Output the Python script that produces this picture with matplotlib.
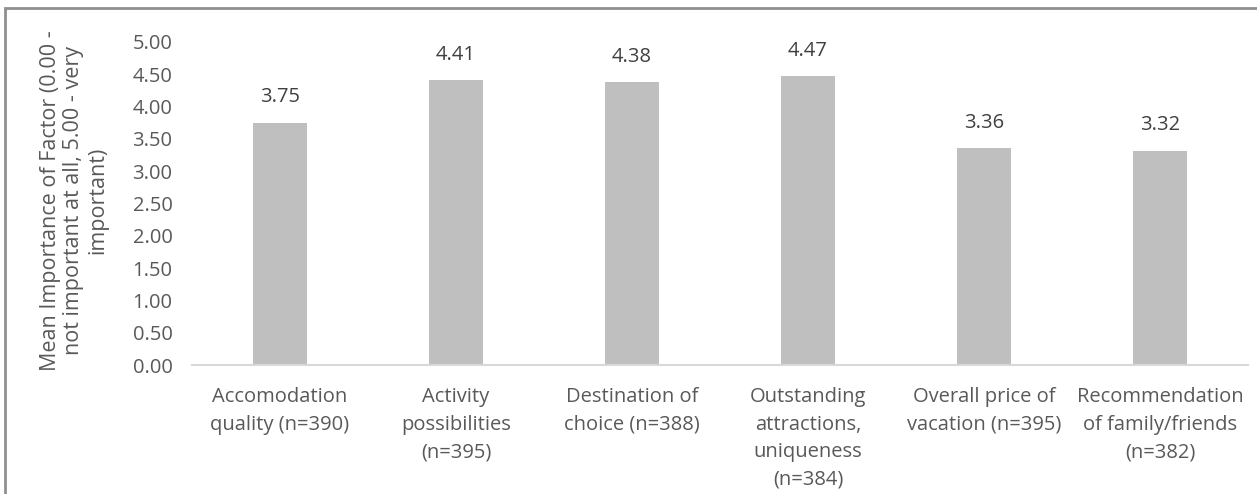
import matplotlib
matplotlib.use("Agg")
import matplotlib.pyplot as plt
import matplotlib.patches as mpatches
import numpy as np

plt.rcParams["font.family"] = ["Open Sans", "DejaVu Sans"]

categories = [
    "Accomodation\nquality (n=390)",
    "Activity\npossibilities\n(n=395)",
    "Destination of\nchoice (n=388)",
    "Outstanding\nattractions,\nuniqueness\n(n=384)",
    "Overall price of\nvacation (n=395)",
    "Recommendation\nof family/friends\n(n=382)",
]
means = [3.75, 4.41, 4.38, 4.47, 3.36, 3.32]
y_ticks = [0.0, 0.5, 1.0, 1.5, 2.0, 2.5, 3.0, 3.5, 4.0, 4.5, 5.0]

text_col = "#595959"

fig = plt.figure(figsize=(12.57, 4.94), dpi=100)
ax = fig.add_axes([0.1527, 0.261, 0.8401, 0.654])

x = np.arange(len(categories))
bars = ax.bar(x, means, width=0.31, color="#bfbfbf", zorder=2)

for b, v in zip(bars, means):
    ax.annotate(f"{v:.2f}", (b.get_x() + b.get_width() / 2, v),
                xytext=(0, 11), textcoords="offset points",
                ha="center", va="bottom", fontsize=14.5, color="#404040")

ax.set_xlim(-0.5, len(categories) - 0.5)
ax.set_ylim(0, 5)
ax.set_yticks(y_ticks)
ax.set_yticklabels([f"{t:.2f}" for t in y_ticks])
ax.set_xticks(x)
ax.set_xticklabels(categories, linespacing=1.5)
ax.tick_params(axis="both", length=0, labelsize=14.5, colors=text_col)
ax.tick_params(axis="x", pad=16)
ax.tick_params(axis="y", pad=14)

for side in ["top", "right", "left"]:
    ax.spines[side].set_visible(False)
ax.spines["bottom"].set_color("#d9d9d9")
ax.spines["bottom"].set_linewidth(1.5)

ax.set_ylabel("Mean Importance of Factor (0.00 -\nnot important at all, 5.00 - very\nimportant)",
              fontsize=15.5, color=text_col, linespacing=1.17)
ax.yaxis.set_label_coords(-0.0793, 0.51)

# outer chart-area border, running off the right and bottom edges
frame = mpatches.Rectangle((5 / 1257, -0.1), 1.2, (494 - 8.5) / 494 + 0.1,
                           transform=fig.transFigure, fill=False,
                           edgecolor="#8f8f8f", linewidth=2)
fig.patches.append(frame)

fig.savefig("out.png", dpi=100)
